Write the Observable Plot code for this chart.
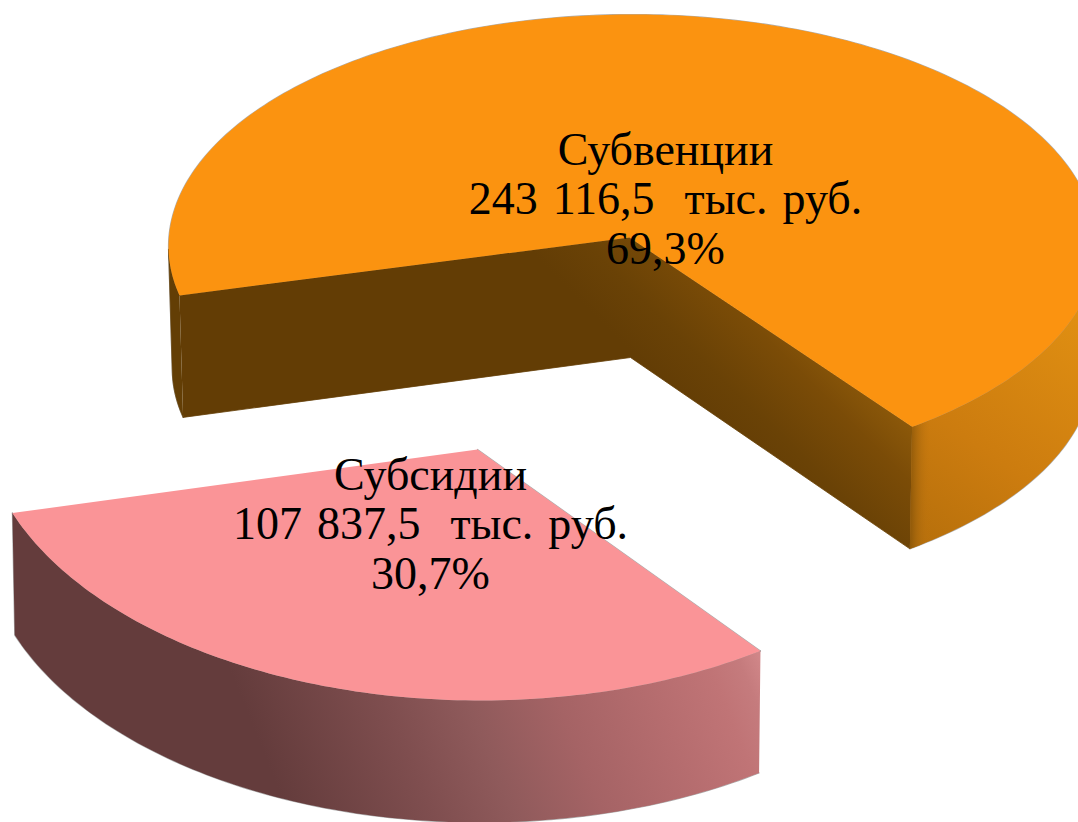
<!DOCTYPE html>
<html><head><meta charset="utf-8">
<style>html,body{margin:0;padding:0;background:#fff;overflow:hidden}svg{display:block}</style>
<script src="https://cdn.jsdelivr.net/npm/d3@7"></script>
<script src="https://cdn.jsdelivr.net/npm/@observablehq/plot@0.6"></script>
</head><body><div id="chart"></div>
<script>
// Chart values
const categories = ["Субвенции", "Субсидии"];
const amounts = [243116.5, 107837.5];
const amountLabels = ["243 116,5  тыс. руб.", "107 837,5  тыс. руб."];
const shareLabels = ["69,3%", "30,7%"];
const topColors = ["#fb9310", "#fa9497"];

// Projection of each exploded slice
const views = [
  {cx: 632, cy: 246, rx: 464, ryBack: 232, ryFront: 226, ax: 629, ay: 237, rho: 0.48, lx: 665, ly: 198, floor: 0.992},
  {cx: 480, cy: 411, rx: 500, ryBack: 290, ryFront: 289, ax: 477, ay: 449, rho: 0.51, lx: 430, ly: 523, floor: 0.995}
];
const firstAngle = 255, depth = 122, apexDepth = 120;

const total = d3.sum(amounts);
let cursor = firstAngle;
const slices = categories.map((name, i) => {
  const a0 = cursor, a1 = cursor + amounts[i] / total * 360;
  cursor = a1;
  return {name, i, a0, a1, sweep: a1 - a0, v: views[i]};
});

function hit(v, ry, dx, dy) {
  const ex = (v.ax - v.cx) / v.rx, ey = (v.ay - v.cy) / ry, fx = dx / v.rx, fy = dy / ry;
  const A = fx * fx + fy * fy, B = 2 * (ex * fx + ey * fy), C = ex * ex + ey * ey - 1;
  const t = (-B + Math.sqrt(B * B - 4 * A * C)) / (2 * A);
  return {x: v.ax + t * dx, y: v.ay + t * dy};
}
function rim(v, deg) {
  const p = deg * Math.PI / 180, dx = Math.sin(p), dy = -Math.cos(p) * v.rho;
  const back = hit(v, v.ryBack, dx, dy);
  return back.y <= v.cy ? back : hit(v, v.ryFront, dx, dy);
}
const lower = (v, p) => ({x: v.cx + (p.x - v.cx) * v.floor, y: p.y + depth});
const arc = s => d3.range(0, Math.ceil(s.sweep) + 1).map(k => rim(s.v, Math.min(s.a0 + k, s.a1)));
const apex = s => ({x: s.v.ax, y: s.v.ay});
const topFace = s => [apex(s), ...arc(s)];
function outerRuns(s) {
  const runs = [];
  let run = null;
  for (const p of arc(s)) {
    if (p.y >= s.v.cy) { if (!run) runs.push(run = []); run.push(p); } else run = null;
  }
  return runs.map(r => [...r, ...r.slice().reverse().map(p => lower(s.v, p))]);
}
function cutWalls(s) {
  const e0 = rim(s.v, s.a0), e1 = rim(s.v, s.a1), a = apex(s);
  return [e0, a, e1, lower(s.v, e1), {x: a.x + 1, y: a.y + apexDepth}, lower(s.v, e0)];
}

const line = (pts, o) => Plot.line(pts, {x: "x", y: "y", clip: true, ...o});
const marks = [];
const defs = () => {
  const d = d3.create("svg:defs");
  const grad = (id, x1, y1, x2, y2, stops) => {
    const g = d.append("linearGradient").attr("id", id).attr("gradientUnits", "userSpaceOnUse")
      .attr("x1", x1).attr("y1", y1).attr("x2", x2).attr("y2", y2);
    for (const [o, c, a = 1] of stops) g.append("stop").attr("offset", o).attr("stop-color", c).attr("stop-opacity", a);
  };
  grad("orangeCut", 700, 420, 806, 314, [[0, "#633d05"], [0.3, "#6a4206"], [0.7, "#7b4c07"], [1, "#8e5a0a"]]);
  grad("orangeOuter", 900, 560, 1078, 310, [[0, "#b26d0b"], [0.45, "#cc7c0f"], [1, "#e08f12"]]);
  grad("orangeEdge", 906, 0, 930, 0, [[0, "#7d4e08"], [0.4, "#a3650c", 0.8], [1, "#c47710", 0]]);
  grad("pinkOuter", 250, 720, 709, 534, [[0, "#643c3c"], [0.27, "#7f4e4f"], [0.42, "#8f5a5b"], [0.59, "#a56365"], [0.78, "#b66d6f"], [0.9, "#c07476"], [0.96, "#c57b7d"], [1, "#d08688"]]);
  return d.node();
};
marks.push(defs);

for (const s of slices) {
  const runs = outerRuns(s);
  // soft grey outline under the solid
  for (const f of [topFace(s), ...runs]) marks.push(line(f, {stroke: "#8c8c8c", strokeWidth: 1.2, strokeOpacity: 0.7, fill: "none"}));
  if (s.sweep > 180) marks.push(line(cutWalls(s), {fill: "url(#orangeCut)", stroke: "url(#orangeCut)", strokeWidth: 0.8}));
  for (const r of runs) {
    if (s.i === 1) marks.push(line(r, {fill: "url(#pinkOuter)"}));
    else if (d3.mean(r, p => p.x) < s.v.cx) marks.push(line(r, {fill: "#633e05", stroke: "#633e05", strokeWidth: 0.6}));
    else { marks.push(line(r, {fill: "url(#orangeOuter)"})); marks.push(line(r, {fill: "url(#orangeEdge)"})); }
  }
  marks.push(line(topFace(s), {fill: topColors[s.i]}));
}

const labels = slices.map(s => ({
  x: s.v.lx, y: s.v.ly,
  text: [s.name, amountLabels[s.i], shareLabels[s.i]].join("\n")
}));
marks.push(Plot.text(labels, {
  x: "x", y: "y", text: "text", fontSize: 46, lineHeight: 1.076,
  fontFamily: "Liberation Serif", fill: "#000", textAnchor: "middle"
}));

const chart = Plot.plot({
  width: 1078, height: 822,
  marginTop: 0, marginRight: 0, marginBottom: 0, marginLeft: 0,
  style: {wordSpacing: "3.5px"},
  x: {domain: [0, 1078], axis: null},
  y: {domain: [822, 0], axis: null},
  marks
});
document.getElementById("chart").append(chart);
</script></body></html>
